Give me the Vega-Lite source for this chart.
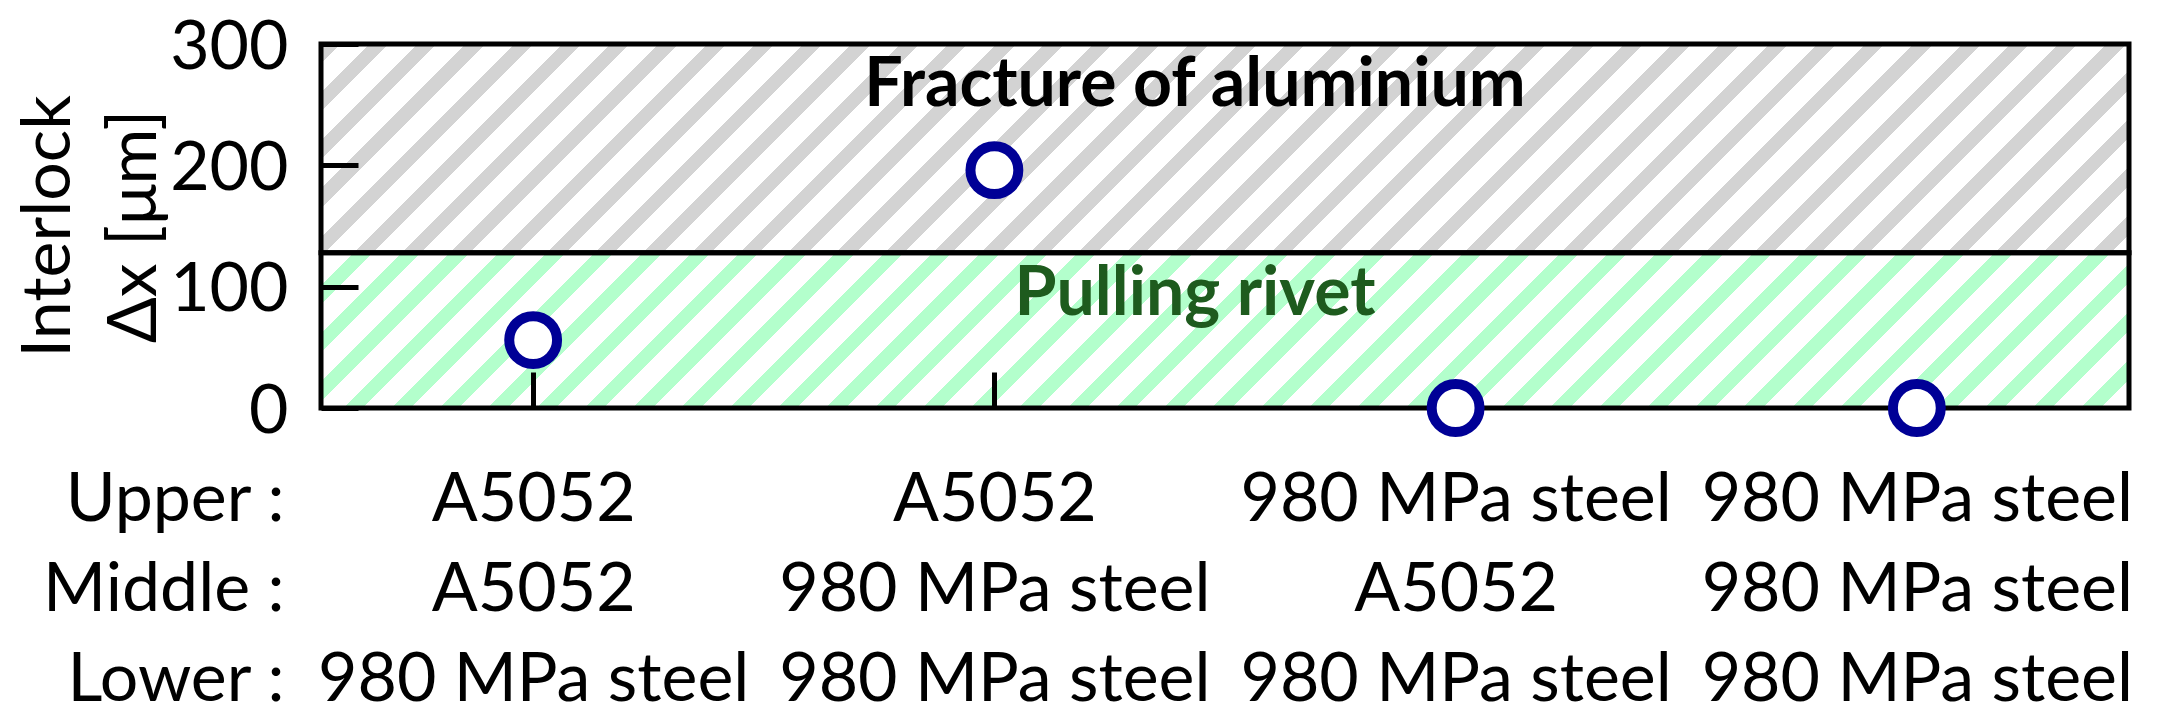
{
  "$schema": "https://vega.github.io/schema/vega-lite/v6.json",
  "width": 1808,
  "height": 364,
  "autosize": {"type": "none"},
  "padding": {"left": 321, "top": 44, "right": 32, "bottom": 317},
  "background": "white",
  "config": {"view": {"stroke": null}, "font": "Lato"},
  "datasets": {
    "regions": [
      {"region": "Fracture of aluminium", "lo": 128, "hi": 300},
      {"region": "Pulling rivet", "lo": 0, "hi": 128}
    ],
    "samples": [
      {"layers": "A5052|A5052|980 MPa steel", "interlock": 56},
      {"layers": "A5052|980 MPa steel|980 MPa steel", "interlock": 196},
      {"layers": "980 MPa steel|A5052|980 MPa steel", "interlock": 0},
      {"layers": "980 MPa steel|980 MPa steel|980 MPa steel", "interlock": 0}
    ]
  },
  "layer": [
    {
      "data": {"name": "regions"},
      "mark": {"type": "rect"},
      "encoding": {
        "y": {
          "field": "lo", "type": "quantitative",
          "scale": {"domain": [0, 300], "nice": false, "zero": true},
          "axis": {
            "title": ["Interlock", "Δx [μm]"],
            "titleX": -252, "titleY": 182, "titleAngle": -90, "titleAlign": "center", "titleBaseline": "alphabetic",
            "titleFontSize": 68, "titleFontWeight": "normal", "titleLineHeight": 86, "titleColor": "black", "titleLimit": 0,
            "values": [0, 100, 200, 300],
            "labelFontSize": 68, "labelPadding": 70, "labelColor": "black", "labelBaseline": "middle", "labelOffset": 4,
            "labelFlush": false, "labelBound": false, "labelOverlap": false, "labelLimit": 0,
            "ticks": true, "tickSize": -37, "tickWidth": 5, "tickColor": "black",
            "domain": false, "grid": false, "zindex": 1
          }
        },
        "y2": {"field": "hi"},
        "fill": {
          "field": "region", "type": "nominal",
          "scale": {"domain": ["Fracture of aluminium", "Pulling rivet"], "range": ["#d3d3d3", "#b3ffcc"]},
          "legend": null
        }
      }
    },
    {
      "data": {"name": "regions"},
      "mark": {
        "type": "rect",
        "fill": {
          "gradient": "linear", "x1": 0, "y1": 0, "x2": 1.15453, "y2": 0.23244,
          "stops": [
            {"offset":0,"color":"#fff0"},{"offset":0.00889,"color":"#fff0"},{"offset":0.00889,"color":"#fff"},{"offset":0.02222,"color":"#fff"},
            {"offset":0.02222,"color":"#fff0"},{"offset":0.03111,"color":"#fff0"},{"offset":0.03111,"color":"#fff"},{"offset":0.04444,"color":"#fff"},
            {"offset":0.04444,"color":"#fff0"},{"offset":0.05333,"color":"#fff0"},{"offset":0.05333,"color":"#fff"},{"offset":0.06667,"color":"#fff"},
            {"offset":0.06667,"color":"#fff0"},{"offset":0.07556,"color":"#fff0"},{"offset":0.07556,"color":"#fff"},{"offset":0.08889,"color":"#fff"},
            {"offset":0.08889,"color":"#fff0"},{"offset":0.09778,"color":"#fff0"},{"offset":0.09778,"color":"#fff"},{"offset":0.11111,"color":"#fff"},
            {"offset":0.11111,"color":"#fff0"},{"offset":0.12,"color":"#fff0"},{"offset":0.12,"color":"#fff"},{"offset":0.13333,"color":"#fff"},
            {"offset":0.13333,"color":"#fff0"},{"offset":0.14222,"color":"#fff0"},{"offset":0.14222,"color":"#fff"},{"offset":0.15556,"color":"#fff"},
            {"offset":0.15556,"color":"#fff0"},{"offset":0.16444,"color":"#fff0"},{"offset":0.16444,"color":"#fff"},{"offset":0.17778,"color":"#fff"},
            {"offset":0.17778,"color":"#fff0"},{"offset":0.18667,"color":"#fff0"},{"offset":0.18667,"color":"#fff"},{"offset":0.2,"color":"#fff"},
            {"offset":0.2,"color":"#fff0"},{"offset":0.20889,"color":"#fff0"},{"offset":0.20889,"color":"#fff"},{"offset":0.22222,"color":"#fff"},
            {"offset":0.22222,"color":"#fff0"},{"offset":0.23111,"color":"#fff0"},{"offset":0.23111,"color":"#fff"},{"offset":0.24444,"color":"#fff"},
            {"offset":0.24444,"color":"#fff0"},{"offset":0.25333,"color":"#fff0"},{"offset":0.25333,"color":"#fff"},{"offset":0.26667,"color":"#fff"},
            {"offset":0.26667,"color":"#fff0"},{"offset":0.27556,"color":"#fff0"},{"offset":0.27556,"color":"#fff"},{"offset":0.28889,"color":"#fff"},
            {"offset":0.28889,"color":"#fff0"},{"offset":0.29778,"color":"#fff0"},{"offset":0.29778,"color":"#fff"},{"offset":0.31111,"color":"#fff"},
            {"offset":0.31111,"color":"#fff0"},{"offset":0.32,"color":"#fff0"},{"offset":0.32,"color":"#fff"},{"offset":0.33333,"color":"#fff"},
            {"offset":0.33333,"color":"#fff0"},{"offset":0.34222,"color":"#fff0"},{"offset":0.34222,"color":"#fff"},{"offset":0.35556,"color":"#fff"},
            {"offset":0.35556,"color":"#fff0"},{"offset":0.36444,"color":"#fff0"},{"offset":0.36444,"color":"#fff"},{"offset":0.37778,"color":"#fff"},
            {"offset":0.37778,"color":"#fff0"},{"offset":0.38667,"color":"#fff0"},{"offset":0.38667,"color":"#fff"},{"offset":0.4,"color":"#fff"},
            {"offset":0.4,"color":"#fff0"},{"offset":0.40889,"color":"#fff0"},{"offset":0.40889,"color":"#fff"},{"offset":0.42222,"color":"#fff"},
            {"offset":0.42222,"color":"#fff0"},{"offset":0.43111,"color":"#fff0"},{"offset":0.43111,"color":"#fff"},{"offset":0.44444,"color":"#fff"},
            {"offset":0.44444,"color":"#fff0"},{"offset":0.45333,"color":"#fff0"},{"offset":0.45333,"color":"#fff"},{"offset":0.46667,"color":"#fff"},
            {"offset":0.46667,"color":"#fff0"},{"offset":0.47556,"color":"#fff0"},{"offset":0.47556,"color":"#fff"},{"offset":0.48889,"color":"#fff"},
            {"offset":0.48889,"color":"#fff0"},{"offset":0.49778,"color":"#fff0"},{"offset":0.49778,"color":"#fff"},{"offset":0.51111,"color":"#fff"},
            {"offset":0.51111,"color":"#fff0"},{"offset":0.52,"color":"#fff0"},{"offset":0.52,"color":"#fff"},{"offset":0.53333,"color":"#fff"},
            {"offset":0.53333,"color":"#fff0"},{"offset":0.54222,"color":"#fff0"},{"offset":0.54222,"color":"#fff"},{"offset":0.55556,"color":"#fff"},
            {"offset":0.55556,"color":"#fff0"},{"offset":0.56444,"color":"#fff0"},{"offset":0.56444,"color":"#fff"},{"offset":0.57778,"color":"#fff"},
            {"offset":0.57778,"color":"#fff0"},{"offset":0.58667,"color":"#fff0"},{"offset":0.58667,"color":"#fff"},{"offset":0.6,"color":"#fff"},
            {"offset":0.6,"color":"#fff0"},{"offset":0.60889,"color":"#fff0"},{"offset":0.60889,"color":"#fff"},{"offset":0.62222,"color":"#fff"},
            {"offset":0.62222,"color":"#fff0"},{"offset":0.63111,"color":"#fff0"},{"offset":0.63111,"color":"#fff"},{"offset":0.64444,"color":"#fff"},
            {"offset":0.64444,"color":"#fff0"},{"offset":0.65333,"color":"#fff0"},{"offset":0.65333,"color":"#fff"},{"offset":0.66667,"color":"#fff"},
            {"offset":0.66667,"color":"#fff0"},{"offset":0.67556,"color":"#fff0"},{"offset":0.67556,"color":"#fff"},{"offset":0.68889,"color":"#fff"},
            {"offset":0.68889,"color":"#fff0"},{"offset":0.69778,"color":"#fff0"},{"offset":0.69778,"color":"#fff"},{"offset":0.71111,"color":"#fff"},
            {"offset":0.71111,"color":"#fff0"},{"offset":0.72,"color":"#fff0"},{"offset":0.72,"color":"#fff"},{"offset":0.73333,"color":"#fff"},
            {"offset":0.73333,"color":"#fff0"},{"offset":0.74222,"color":"#fff0"},{"offset":0.74222,"color":"#fff"},{"offset":0.75556,"color":"#fff"},
            {"offset":0.75556,"color":"#fff0"},{"offset":0.76444,"color":"#fff0"},{"offset":0.76444,"color":"#fff"},{"offset":0.77778,"color":"#fff"},
            {"offset":0.77778,"color":"#fff0"},{"offset":0.78667,"color":"#fff0"},{"offset":0.78667,"color":"#fff"},{"offset":0.8,"color":"#fff"},
            {"offset":0.8,"color":"#fff0"},{"offset":0.80889,"color":"#fff0"},{"offset":0.80889,"color":"#fff"},{"offset":0.82222,"color":"#fff"},
            {"offset":0.82222,"color":"#fff0"},{"offset":0.83111,"color":"#fff0"},{"offset":0.83111,"color":"#fff"},{"offset":0.84444,"color":"#fff"},
            {"offset":0.84444,"color":"#fff0"},{"offset":0.85333,"color":"#fff0"},{"offset":0.85333,"color":"#fff"},{"offset":0.86667,"color":"#fff"},
            {"offset":0.86667,"color":"#fff0"},{"offset":0.87556,"color":"#fff0"},{"offset":0.87556,"color":"#fff"},{"offset":0.88889,"color":"#fff"},
            {"offset":0.88889,"color":"#fff0"},{"offset":0.89778,"color":"#fff0"},{"offset":0.89778,"color":"#fff"},{"offset":0.91111,"color":"#fff"},
            {"offset":0.91111,"color":"#fff0"},{"offset":0.92,"color":"#fff0"},{"offset":0.92,"color":"#fff"},{"offset":0.93333,"color":"#fff"},
            {"offset":0.93333,"color":"#fff0"},{"offset":0.94222,"color":"#fff0"},{"offset":0.94222,"color":"#fff"},{"offset":0.95556,"color":"#fff"},
            {"offset":0.95556,"color":"#fff0"},{"offset":0.96444,"color":"#fff0"},{"offset":0.96444,"color":"#fff"},{"offset":0.97778,"color":"#fff"},
            {"offset":0.97778,"color":"#fff0"},{"offset":0.98667,"color":"#fff0"},{"offset":0.98667,"color":"#fff"},{"offset":1,"color":"#fff"}
          ]
        }
      },
      "encoding": {
        "y": {"aggregate": "min", "field": "lo", "type": "quantitative"},
        "y2": {"aggregate": "max", "field": "hi"}
      }
    },
    {
      "data": {"name": "regions"},
      "mark": {"type": "rect", "filled": false, "fill": "transparent", "stroke": "black", "strokeWidth": 5},
      "encoding": {
        "y": {"field": "lo", "type": "quantitative"},
        "y2": {"field": "hi"}
      }
    },
    {
      "data": {"name": "regions"},
      "mark": {"type": "text", "fontSize": 68, "fontWeight": "bold", "align": "center", "baseline": "alphabetic", "dy": 62, "dx": -30},
      "encoding": {
        "y": {"field": "hi", "type": "quantitative"},
        "text": {"field": "region", "type": "nominal"},
        "color": {
          "field": "region", "type": "nominal",
          "scale": {"domain": ["Fracture of aluminium", "Pulling rivet"], "range": ["#000000", "#1e5b1e"]},
          "legend": null
        }
      }
    },
    {
      "data": {"name": "samples"},
      "mark": {"type": "point", "shape": "circle", "size": 2290, "filled": false, "fill": "#ffffff", "fillOpacity": 1, "stroke": "#000096", "strokeWidth": 10, "opacity": 1},
      "encoding": {
        "x": {
          "field": "layers", "type": "nominal", "sort": null,
          "scale": {"type": "point", "padding": 0.46},
          "axis": {
            "title": ["Upper :", "Middle :", "Lower :"],
            "titleX": -37, "titleY": 112, "titleAngle": 0, "titleAlign": "right", "titleBaseline": "alphabetic",
            "titleFontSize": 68, "titleFontWeight": "normal", "titleLineHeight": 90, "titleColor": "black", "titleLimit": 0,
            "labelExpr": "split(datum.value, '|')",
            "labelAngle": 0, "labelAlign": "center", "labelBaseline": "alphabetic",
            "labelFontSize": 68, "labelLineHeight": 90, "labelPadding": 148, "labelColor": "black", "labelLimit": 0,
            "labelOverlap": false, "labelBound": false, "labelFlush": false,
            "ticks": true, "tickSize": -36, "tickWidth": 5, "tickColor": "black",
            "tickOpacity": {"condition": {"test": "indexof(datum.value, 'A5052') === 0", "value": 1}, "value": 0},
            "domain": false, "grid": false, "zindex": 1
          }
        },
        "y": {"field": "interlock", "type": "quantitative"}
      }
    }
  ]
}
